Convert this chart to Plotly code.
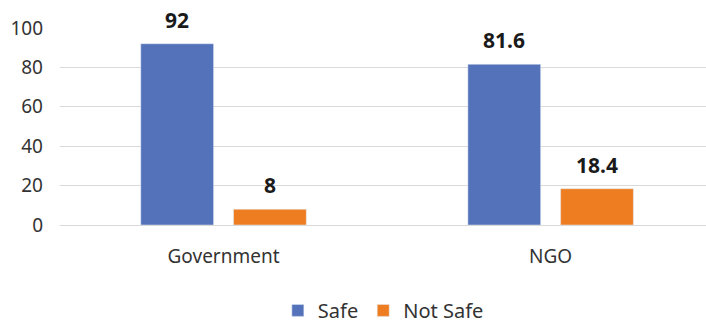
import plotly.graph_objects as go

categories = ["Government", "NGO"]
safe = [92, 81.6]
not_safe = [8, 18.4]
safe_labels = ["92", "81.6"]
not_safe_labels = ["8", "18.4"]
y_ticks = [0, 20, 40, 60, 80, 100]

font_family = "Noto Sans, Open Sans, sans-serif"
label_font = dict(family=font_family, size=21, color="#1a1a1a", weight="bold")

fig = go.Figure()
fig.add_trace(go.Bar(x=categories, y=safe, name="Safe", marker_color="#5472B9"))
fig.add_trace(go.Bar(x=categories, y=not_safe, name="Not Safe", marker_color="#EE7D22"))

for series, labels, shift in ((safe, safe_labels, -46.5), (not_safe, not_safe_labels, 46.5)):
    for cat, val, lab in zip(categories, series, labels):
        fig.add_annotation(x=cat, y=val, text=lab, showarrow=False,
                           xanchor="center", yanchor="bottom",
                           xshift=shift, yshift=8, font=label_font)

fig.update_layout(
    width=706, height=325,
    margin=dict(l=60, r=0, t=28, b=100, autoexpand=False),
    paper_bgcolor="white", plot_bgcolor="white",
    barmode="group", bargap=0.433, bargroupgap=0.215,
    font=dict(family=font_family, size=19, color="#333333"),
    showlegend=True,
    legend=dict(orientation="h", x=0.543, xanchor="center", xref="container",
                y=0.045, yanchor="middle", yref="container", font=dict(size=20),
                itemwidth=30, traceorder="normal"),
)
fig.update_xaxes(range=[-0.5, 1.475], showgrid=False, showline=False,
                 ticks="", ticklabelstandoff=18, tickfont=dict(size=19))
fig.update_yaxes(range=[0, 100], tickvals=y_ticks, showgrid=True,
                 gridcolor="#d9d9d9", gridwidth=1, zeroline=True,
                 zerolinecolor="#d9d9d9", zerolinewidth=1, showline=False,
                 ticks="", ticklabelstandoff=16, tickfont=dict(size=19))

fig.write_html("out.html")
